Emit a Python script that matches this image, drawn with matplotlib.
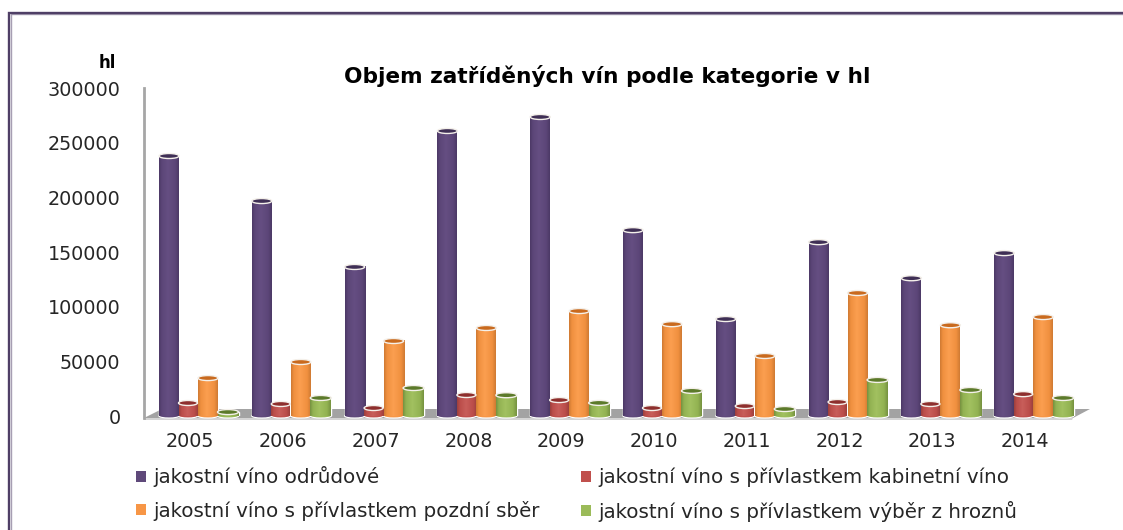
import numpy as np
import matplotlib
matplotlib.use("Agg")
import matplotlib.pyplot as plt
from matplotlib.colors import LinearSegmentedColormap
from matplotlib.patches import Ellipse, Polygon

years = ["2005", "2006", "2007", "2008", "2009", "2010", "2011", "2012", "2013", "2014"]
odrudove = [237800, 196600, 136300, 260700, 273500, 170000, 88700, 159000, 126000, 149000]
kabinet = [11900, 11000, 7300, 19200, 14600, 7300, 9100, 12800, 11000, 20000]
pozdni = [34700, 49400, 68600, 80500, 96000, 84000, 54900, 112500, 83000, 90500]
vyber = [3600, 16500, 25600, 19000, 12000, 23000, 6400, 33000, 23800, 16500]
series_names = ["jakostní víno odrůdové", "jakostní víno s přívlastkem kabinetní víno",
                "jakostní víno s přívlastkem pozdní sběr", "jakostní víno s přívlastkem výběr z hroznů"]
yticks = [0, 50000, 100000, 150000, 200000, 250000, 300000]

W, H = 1123, 530
fig = plt.figure(figsize=(W / 100, H / 100), dpi=100, facecolor="white")
TXT = "#262626"

# page furniture in pixel coordinates
bg = fig.add_axes([0, 0, 1, 1], zorder=0)
bg.set_xlim(0, W); bg.set_ylim(H, 0); bg.axis("off")
bg.plot([11, 11, W], [H, 14.4, 14.4], color="#a79fb3", lw=1, solid_joinstyle="miter")
bg.plot([9.3, 9.3, W], [H, 12.6, 12.6], color="#4f3f66", lw=1.7, solid_joinstyle="miter")
bg.add_patch(Polygon([[144, 418], [162, 409], [1090, 409], [1073, 418]], fc="#a3a3a3", ec="none"))
bg.add_patch(Polygon([[144, 418], [1073, 418], [1072, 420], [144, 420]], fc="#d4d4d4", ec="none"))

x0, x1, y0, y1 = 144, 1095, 88, 416
ax = fig.add_axes([x0 / W, 1 - y1 / H, (x1 - x0) / W, (y1 - y0) / H], zorder=1)
ax.patch.set_alpha(0)
PX = 92.8
xlim = ((x0 - 190) / PX, (x1 - 190) / PX)
ylim = (0, 300000)

def shade(c_dark, c_mid, c_light):
    return LinearSegmentedColormap.from_list("c", [(0, c_dark), (.14, c_mid), (.45, c_light), (.82, c_mid), (1, c_dark)])

styles = [
    (odrudove, -21, 20, "#5f497a", shade("#4c3966", "#5c4678", "#654e82"), "#3f2f55"),
    (kabinet, -2, 19, "#c0504d", shade("#9c403d", "#bb4d4a", "#c85e5a"), "#8e2f2d"),
    (pozdni, 18, 20, "#f79646", shade("#cf7a33", "#f0903f", "#fb9f50"), "#c96a1e"),
    (vyber, 38, 21, "#9bbb59", shade("#769240", "#92b252", "#a2c160"), "#5c7a2a"),
]
xs = np.arange(len(years))
grad = np.linspace(0, 1, 64).reshape(1, -1)
handles = []
px_y = 300000 / (y1 - y0)
for vals, off, wpx, col, cmap, top in styles:
    pos = xs + off / PX
    w = wpx / PX
    bars = ax.bar(pos, vals, width=w, color=col, edgecolor="white", linewidth=1.0, zorder=3)
    handles.append(bars)
    for p, v in zip(pos, vals):
        ax.add_patch(Ellipse((p, 0), w, 4 * px_y, fc=col, ec="white", lw=0.8, zorder=2.9, clip_on=False))
        ax.imshow(grad, extent=(p - w / 2, p + w / 2, 0, v), cmap=cmap, aspect="auto", zorder=3.1)
        ax.add_patch(Ellipse((p, v), w, 5 * px_y, fc=top, ec="#f4f0ea", lw=1.0, zorder=3.2, clip_on=False))

ax.set_xlim(xlim); ax.set_ylim(ylim)
for s in ("top", "right", "bottom"):
    ax.spines[s].set_visible(False)
ax.spines["left"].set_color("#a6a6a6")
ax.spines["left"].set_linewidth(2)
ax.spines["left"].set_bounds(-2000, 300000)
ax.set_xticks(xs, years)
ax.set_yticks(yticks, [str(v) for v in yticks])
ax.tick_params(axis="both", length=0, colors=TXT)
ax.tick_params(axis="x", labelsize=13.8, pad=11.5)
ax.tick_params(axis="y", labelsize=13.8, pad=17)

fig.text(607 / W, 1 - 76 / H, "Objem zatříděných vín podle kategorie v hl", ha="center", va="center",
         fontsize=15.6, fontweight="bold", color="black")
fig.text(107 / W, 1 - 63 / H, "hl", ha="center", va="center", fontsize=12, fontweight="bold", color="black")

leg_order = [handles[0], handles[2], handles[1], handles[3]]
leg_names = [series_names[0], series_names[2], series_names[1], series_names[3]]
leg = fig.legend(leg_order, leg_names, ncol=2, frameon=False, fontsize=14.3,
                 loc="lower left", bbox_to_anchor=(136 / W, 1 - 522 / H), bbox_transform=fig.transFigure,
                 borderaxespad=0, borderpad=0, handlelength=0.48, handleheight=0.48, handletextpad=0.38,
                 columnspacing=2.1, labelspacing=0.68, labelcolor=TXT)
for h in leg.legend_handles:
    h.set_edgecolor("none")

fig.savefig("out.png", dpi=100)
